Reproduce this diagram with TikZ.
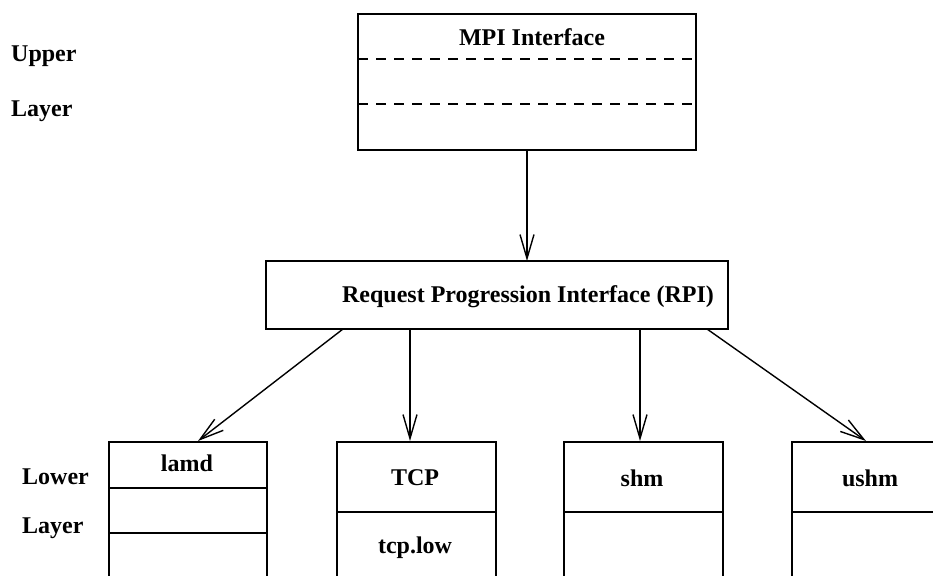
\documentclass[tikz,border=0pt]{standalone}
\usepackage{fontspec}
\setmainfont{Liberation Serif}
\usetikzlibrary{arrows.meta}
\tikzset{
  lbl/.style={font=\fontsize{24}{26}\selectfont\bfseries, inner sep=0pt},
  frame/.style={draw, line width=1.8pt},
  sep/.style={line width=1.8pt},
  dsep/.style={line width=1.8pt, dash pattern=on 10pt off 8pt},
  link/.style={line width=1.4pt, -{Straight Barb[length=24pt,width=14pt,line width=1.4pt]}},
}
\begin{document}
\begin{tikzpicture}[x=1pt,y=-1pt]
\useasboundingbox (0,0) rectangle (933,575);
\clip (0,0) rectangle (933,575);

% side labels
\node[lbl, anchor=west] (up) at (11,56) {Upper};
\node[lbl, anchor=west] (ul) at (11,111) {Layer};
\node[lbl, anchor=west] (lo) at (22,477) {Lower};
\node[lbl, anchor=west] (ll) at (22,528) {Layer};

% MPI interface box
\node[frame, minimum width=338pt, minimum height=136pt, inner sep=0pt] (mpi) at (527,82) {};
\node[lbl] (mpit) at (532,37) {MPI Interface};
\draw[dsep] (358,59) -- (696,59);
\draw[dsep] (358,104) -- (696,104);

% RPI box
\node[frame, minimum width=462pt, minimum height=68pt, inner sep=0pt] (rpi) at (497,295) {};
\node[lbl] (rpit) at (528,297) {Request Progression Interface (RPI)};

% lower modules (they run off the bottom edge)
\node[frame, minimum width=158pt, minimum height=200pt, inner sep=0pt, anchor=north west] (lamd) at (108,441) {};
\draw[sep] (108,488) -- (266,488);
\draw[sep] (108,533) -- (266,533);
\node[lbl] (lamdt) at (187,463) {lamd};

\node[frame, minimum width=159pt, minimum height=200pt, inner sep=0pt, anchor=north west] (tcp) at (336,441) {};
\draw[sep] (336,512) -- (495,512);
\node[lbl] (tcpt) at (415,478) {TCP};
\node[lbl] (tcpl) at (415,548) {tcp.low};

\node[frame, minimum width=159pt, minimum height=200pt, inner sep=0pt, anchor=north west] (shm) at (563,441) {};
\draw[sep] (563,512) -- (722,512);
\node[lbl] (shmt) at (642,478) {shm};

\node[frame, minimum width=159pt, minimum height=200pt, inner sep=0pt, anchor=north west] (ushm) at (791,441) {};
\draw[sep] (791,512) -- (950,512);
\node[lbl] (ushmt) at (870,478) {ushm};

% connectors
\coordinate (a0) at (527,150);
\coordinate (a1) at (527,261);
\draw[link] (a0) -- (a1);
\coordinate (r1) at (343,329);
\coordinate (r2) at (410,329);
\coordinate (r3) at (640,329);
\coordinate (r4) at (707,329);
\coordinate (t1) at (198,441);
\coordinate (t2) at (410,441);
\coordinate (t3) at (640,441);
\coordinate (t4) at (866,441);
\draw[link] (r1) -- (t1);
\draw[link] (r2) -- (t2);
\draw[link] (r3) -- (t3);
\draw[link] (r4) -- (t4);
\end{tikzpicture}
\end{document}
